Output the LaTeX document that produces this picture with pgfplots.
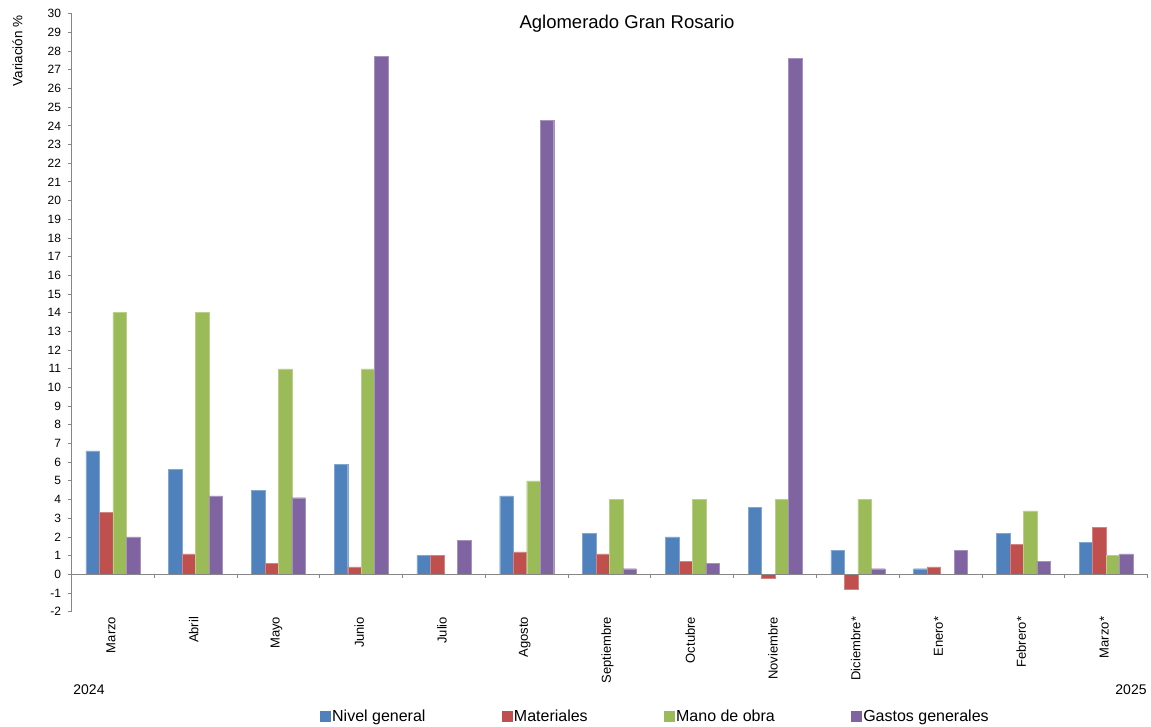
\documentclass[border=0pt]{standalone}
\usepackage{pgfplots}
\pgfplotsset{compat=1.18}
\usepackage{fontspec}
\setmainfont{Liberation Sans}
\definecolor{cblue}{HTML}{4F81BD}
\definecolor{cred}{HTML}{C0504D}
\definecolor{cgreen}{HTML}{9BBB59}
\definecolor{cpurple}{HTML}{8064A2}
\definecolor{axgray}{HTML}{868686}
\begin{document}
\begin{tikzpicture}[x=1pt,y=1pt]
\useasboundingbox (0,0) rectangle (1151,727);
\begin{axis}[
  at={(71.5pt,115.3pt)}, anchor=south west,
  scale only axis, width=1076pt, height=598pt,
  ybar, bar width=0.163,
  xmin=-0.5, xmax=12.5, ymin=-2, ymax=30,
  ytick={-2,-1,...,30},
  xtick={0,...,12},
  xticklabels={Marzo,Abril,Mayo,Junio,Julio,Agosto,Septiembre,Octubre,Noviembre,Diciembre*,Enero*,Febrero*,Marzo*},
  axis y line*=left, axis x line*=bottom,
  x axis line style={draw=none},
  y axis line style={draw=axgray, line width=0.8pt},
  ytick style={draw=axgray, line width=0.8pt},
  xtick style={draw=none},
  tick align=outside, major tick length=4pt,
  /pgf/number format/assume math mode=true,
  yticklabel style={font=\fontsize{12}{14}\selectfont, xshift=-3pt},
  xticklabel style={rotate=90, anchor=east, font=\fontsize{13}{15}\selectfont, inner sep=1pt, yshift=2pt},
  clip=false,
  legend columns=4,
  legend style={at={(0.231,-0.1744)}, anchor=west, draw=none, fill=none, inner sep=0pt,
    nodes={inner sep=1.5pt, font=\fontsize{16}{18}\selectfont},
    /tikz/every even column/.append style={column sep=75pt}},
]
\addplot[fill=cblue, draw=cblue!70!white, line width=0.4pt, bar shift=-0.2445,
  legend image code/.code={\fill[cblue] (0pt,-5pt) rectangle (10pt,5pt);}]
  coordinates {(0,6.6) (1,5.6) (2,4.5) (3,5.9) (4,1.0) (5,4.2) (6,2.2) (7,2.0) (8,3.6) (9,1.3) (10,0.3) (11,2.2) (12,1.7)};
\addlegendentry{Nivel general}
\addplot[fill=cred, draw=cred!70!white, line width=0.4pt, bar shift=-0.0815,
  legend image code/.code={\fill[cred] (0pt,-5pt) rectangle (10pt,5pt);}]
  coordinates {(0,3.3) (1,1.1) (2,0.6) (3,0.4) (4,1.0) (5,1.2) (6,1.1) (7,0.7) (8,-0.2) (9,-0.8) (10,0.4) (11,1.6) (12,2.5)};
\addlegendentry{Materiales}
\addplot[fill=cgreen, draw=cgreen!70!white, line width=0.4pt, bar shift=0.0815,
  legend image code/.code={\fill[cgreen] (0pt,-5pt) rectangle (10pt,5pt);}]
  coordinates {(0,14.0) (1,14.0) (2,11.0) (3,11.0) (5,5.0) (6,4.0) (7,4.0) (8,4.0) (9,4.0) (11,3.4) (12,1.0)};
\addlegendentry{Mano de obra}
\addplot[fill=cpurple, draw=cpurple!70!white, line width=0.4pt, bar shift=0.2445,
  legend image code/.code={\fill[cpurple] (0pt,-5pt) rectangle (10pt,5pt);}]
  coordinates {(0,2.0) (1,4.2) (2,4.1) (3,27.7) (4,1.8) (5,24.3) (6,0.3) (7,0.6) (8,27.6) (9,0.3) (10,1.3) (11,0.7) (12,1.1)};
\addlegendentry{Gastos generales}
\draw[axgray, line width=0.8pt] (axis cs:-0.5,0) -- (axis cs:12.5,0);
\pgfplotsinvokeforeach{0.5,1.5,2.5,3.5,4.5,5.5,6.5,7.5,8.5,9.5,10.5,11.5,12.5}{
  \draw[axgray, line width=0.8pt] (axis cs:#1,0) -- ++(0pt,-4pt);
}
\end{axis}
\node[font=\fontsize{18.5}{22}\selectfont] at (627,703) {Aglomerado Gran Rosario};
\node[font=\fontsize{13.5}{16}\selectfont, rotate=90] at (17.5,676) {Variación \%};
\node[font=\fontsize{14}{16}\selectfont] at (89,37) {2024};
\node[font=\fontsize{14}{16}\selectfont] at (1131,37) {2025};
\end{tikzpicture}
\end{document}
